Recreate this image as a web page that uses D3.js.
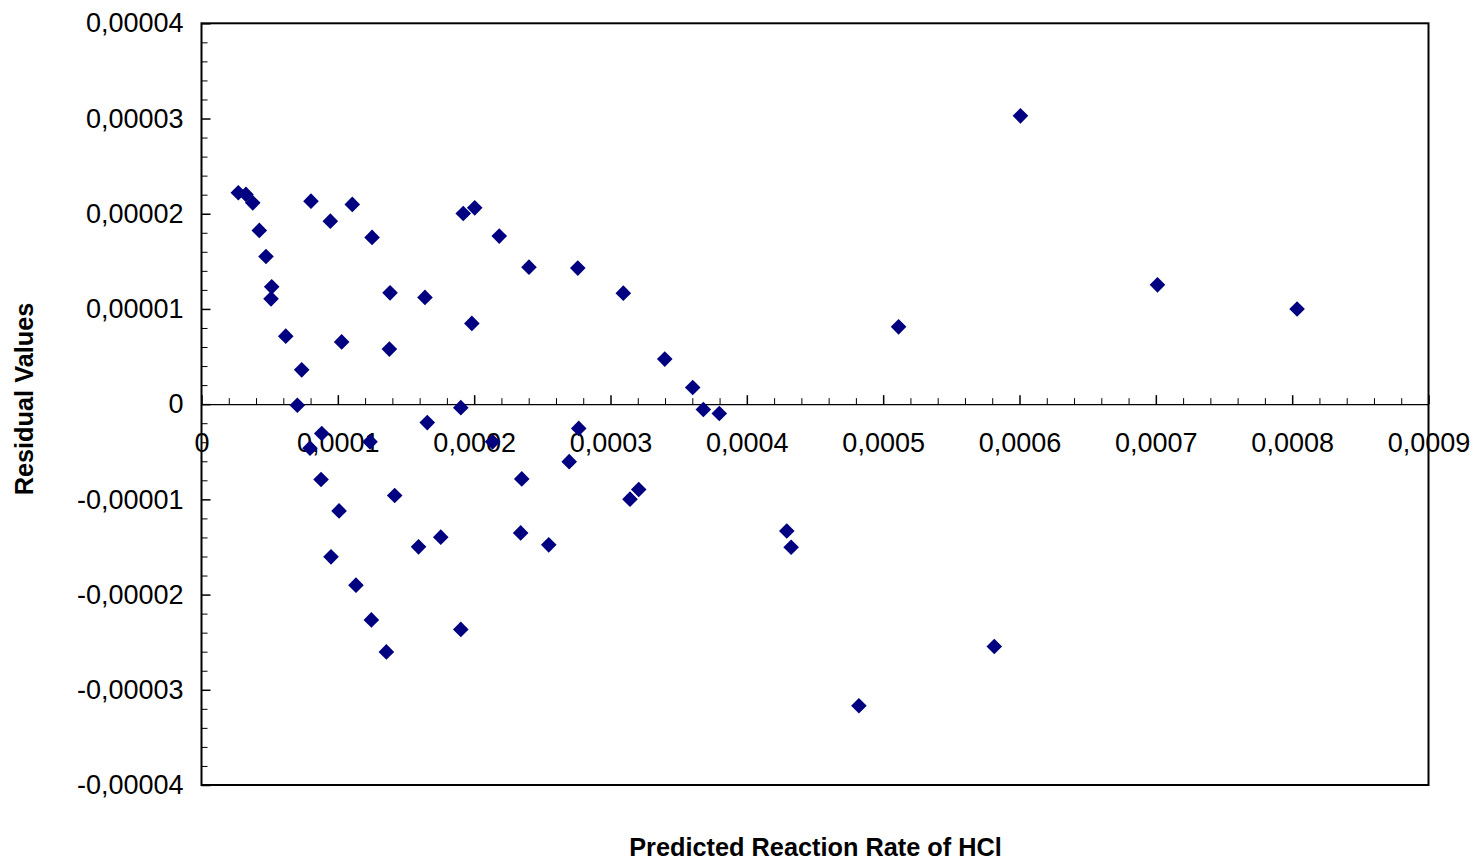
<!DOCTYPE html>
<html>
<head>
<meta charset="utf-8">
<script src="https://cdn.jsdelivr.net/npm/d3@7"></script>
<style>
  html, body { margin: 0; padding: 0; background: #ffffff; }
  svg { display: block; }
  text { font-family: "Liberation Sans", Arial, sans-serif; fill: #000; }
</style>
</head>
<body>
<svg id="chart" width="1475" height="861"></svg>
<script>
// Predicted reaction rate of HCl (x) and the corresponding residuals (y)
const predicted = [
  2.70e-5, 3.26e-5, 3.76e-5, 4.24e-5, 4.73e-5, 5.15e-5, 5.10e-5, 6.18e-5, 7.35e-5, 7.03e-5,
  8.03e-5, 7.96e-5, 8.82e-5, 8.77e-5, 9.45e-5, 9.50e-5, 1.009e-4, 1.028e-4, 1.106e-4, 1.133e-4,
  1.236e-4, 1.251e-4, 1.246e-4, 1.356e-4, 1.383e-4, 1.378e-4, 1.417e-4, 1.592e-4, 1.639e-4, 1.656e-4,
  1.755e-4, 1.902e-4, 1.920e-4, 1.902e-4, 1.983e-4, 2.004e-4, 2.135e-4, 2.184e-4, 2.341e-4, 2.349e-4,
  2.402e-4, 2.547e-4, 2.697e-4, 2.760e-4, 2.767e-4, 3.094e-4, 3.143e-4, 3.207e-4, 3.398e-4, 3.603e-4,
  3.681e-4, 3.798e-4, 4.293e-4, 4.325e-4, 4.822e-4, 5.113e-4, 5.815e-4, 6.007e-4, 7.012e-4, 8.036e-4
];
const residual = [
  2.220e-5, 2.203e-5, 2.114e-5, 1.825e-5, 1.551e-5, 1.232e-5, 1.106e-5, 0.714e-5, 0.360e-5, -0.011e-5,
  2.132e-5, -0.462e-5, -0.308e-5, -0.791e-5, 1.922e-5, -1.604e-5, -1.121e-5, 0.654e-5, 2.098e-5, -1.901e-5,
  -0.396e-5, 1.751e-5, -2.266e-5, -2.602e-5, 1.169e-5, 0.578e-5, -0.959e-5, -1.499e-5, 1.121e-5, -0.194e-5,
  -1.397e-5, -0.037e-5, 2.003e-5, -2.366e-5, 0.848e-5, 2.062e-5, -0.396e-5, 1.765e-5, -1.352e-5, -0.785e-5,
  1.439e-5, -1.478e-5, -0.604e-5, 1.429e-5, -0.255e-5, 1.166e-5, -0.998e-5, -0.896e-5, 0.473e-5, 0.175e-5,
  -0.056e-5, -0.098e-5, -1.332e-5, -1.503e-5, -3.167e-5, 0.812e-5, -2.545e-5, 3.028e-5, 1.253e-5, 1.000e-5
];

const xTicks = [0, 0.0001, 0.0002, 0.0003, 0.0004, 0.0005, 0.0006, 0.0007, 0.0008, 0.0009];
const yTicks = [-0.00004, -0.00003, -0.00002, -0.00001, 0, 0.00001, 0.00002, 0.00003, 0.00004];
const xTitle = "Predicted Reaction Rate of HCl";
const yTitle = "Residual Values";

const points = predicted.map((p, i) => ({ x: p, y: residual[i] }));

// Decimal comma labels, trailing zeros dropped
const fmt = v => {
  let s = Math.abs(v) < 1e-12 ? "0" : v.toFixed(5).replace(/0+$/, "").replace(/\.$/, "");
  return s.replace(".", ",");
};

const svg = d3.select("#chart");
const plotLeft = 201.5, plotRight = 1428.5, plotTop = 23.3, plotBottom = 785;
const tickFont = 27;

const x = d3.scaleLinear().domain([0, 0.0009]).range([plotLeft, plotRight]);
const y = d3.scaleLinear().domain([-0.00004, 0.00004]).range([plotBottom, plotTop]);

// Minor tick positions (fifths of each major step)
const xMinor = d3.range(0, 45).map(i => i * 0.00002).filter((v, i) => i % 5 !== 0);
const yMinor = d3.range(-20, 20).map(i => i * 0.000002).filter((v, i) => (i + 20) % 5 !== 0);

// Y axis: ticks pointing into the plot, labels to the left
const yMinorAxis = d3.axisLeft(y).tickValues(yMinor).tickSizeInner(-6).tickSizeOuter(0).tickFormat("");
svg.append("g").attr("transform", `translate(${plotLeft},0)`).call(yMinorAxis)
  .call(g => g.select(".domain").remove())
  .call(g => g.selectAll("line").attr("stroke", "#000").attr("stroke-width", 1));

const yAxis = d3.axisLeft(y).tickValues(yTicks).tickSizeInner(-9).tickSizeOuter(0)
  .tickPadding(18).tickFormat(fmt);
svg.append("g").attr("transform", `translate(${plotLeft},0)`).call(yAxis)
  .call(g => g.select(".domain").remove())
  .call(g => g.selectAll("line").attr("stroke", "#000").attr("stroke-width", 1.5))
  .call(g => g.selectAll("text").attr("font-size", tickFont).attr("font-family", "Liberation Sans, Arial, sans-serif").attr("fill", "#000"));

// X axis along the zero residual line: ticks point up, labels below
const xMinorAxis = d3.axisBottom(x).tickValues(xMinor).tickSizeInner(-6).tickSizeOuter(0).tickFormat("");
svg.append("g").attr("transform", `translate(0,${y(0)})`).call(xMinorAxis)
  .call(g => g.select(".domain").remove())
  .call(g => g.selectAll("line").attr("stroke", "#000").attr("stroke-width", 1));

const xAxis = d3.axisBottom(x).tickValues(xTicks).tickSizeInner(-9).tickSizeOuter(0)
  .tickPadding(28.5).tickFormat(fmt);
svg.append("g").attr("transform", `translate(0,${y(0)})`).call(xAxis)
  .call(g => g.select(".domain").attr("stroke", "#000").attr("stroke-width", 1.2))
  .call(g => g.selectAll("line").attr("stroke", "#000").attr("stroke-width", 1.5))
  .call(g => g.selectAll("text").attr("font-size", tickFont).attr("font-family", "Liberation Sans, Arial, sans-serif").attr("fill", "#000"));

// Plot frame
svg.append("rect")
  .attr("x", plotLeft).attr("y", plotTop)
  .attr("width", plotRight - plotLeft).attr("height", plotBottom - plotTop)
  .attr("fill", "none").attr("stroke", "#000").attr("stroke-width", 2);

// Diamond markers
const diamond = d3.symbol().type(d3.symbolSquare).size(122);
svg.append("g").selectAll("path")
  .data(points)
  .join("path")
  .attr("d", diamond)
  .attr("transform", d => `translate(${x(d.x)},${y(d.y)}) rotate(45)`)
  .attr("fill", "#000080");

// Axis titles
svg.append("text")
  .attr("x", (plotLeft + plotRight) / 2 + 0.5).attr("y", 856)
  .attr("text-anchor", "middle")
  .attr("font-size", 25.3).attr("font-weight", "bold")
  .text(xTitle);

svg.append("text")
  .attr("transform", `translate(33,399) rotate(-90)`)
  .attr("text-anchor", "middle")
  .attr("font-size", 25.3).attr("font-weight", "bold")
  .text(yTitle);
</script>
</body>
</html>
